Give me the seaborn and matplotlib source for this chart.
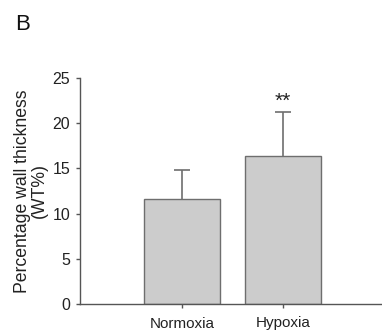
import matplotlib
matplotlib.use("Agg")
import matplotlib.pyplot as plt
import seaborn as sns
import pandas as pd
import numpy as np

categories = ["Normoxia", "Hypoxia"]
means = [11.6, 16.35]
errors = [3.2, 4.85]
yticks = [0, 5, 10, 15, 20, 25]

sns.set_style("white")
plt.rcParams["font.family"] = ["Liberation Sans", "DejaVu Sans"]

df = pd.DataFrame({"group": categories, "wt": means})

fig = plt.figure(figsize=(3.82, 3.30), dpi=100)
ax = fig.add_axes([80/382, 1 - 304/330, 1 - 80/382, (304 - 78)/330])

sns.barplot(data=df, x="group", y="wt", order=categories, color="#cccccc",
            edgecolor="#6e6e6e", linewidth=1.0, width=0.76, errorbar=None,
            saturation=1, ax=ax, zorder=2)

xs = np.arange(len(categories))
tops = np.array(means) + np.array(errors)
ax.vlines(xs, means, tops, color="#6e6e6e", linewidth=1.2, zorder=1)
ax.hlines(tops, xs - 0.08, xs + 0.08, color="#6e6e6e", linewidth=1.2, zorder=1)

ax.text(1, 22.4, "**", ha="center", va="center", fontsize=15, color="#222222")

ax.set_xlim(-1.01, 1.98)
ax.set_ylim(0, 25)
ax.set_yticks(yticks)
ax.set_yticklabels([str(t) for t in yticks], fontsize=11.5, color="#222222")
ax.set_xticks(xs)
ax.set_xticklabels(categories, fontsize=11, color="#222222")
ax.set_xlabel("")
ax.set_ylabel("Percentage wall thickness\n(WT%)", fontsize=12.7, color="#222222",
              linespacing=1.0, labelpad=3)
ax.tick_params(axis="both", which="both", direction="out", length=3, width=1,
               color="#555555", pad=4, left=True, bottom=True)
ax.tick_params(axis="x", pad=6)
for s in ["top", "right"]:
    ax.spines[s].set_visible(False)
for s in ["left", "bottom"]:
    ax.spines[s].set_color("#555555")
    ax.spines[s].set_linewidth(1.0)

fig.text(15/382, 1 - 30/330, "B", fontsize=16, color="#111111", ha="left", va="baseline")

fig.savefig("out.png", dpi=100)
